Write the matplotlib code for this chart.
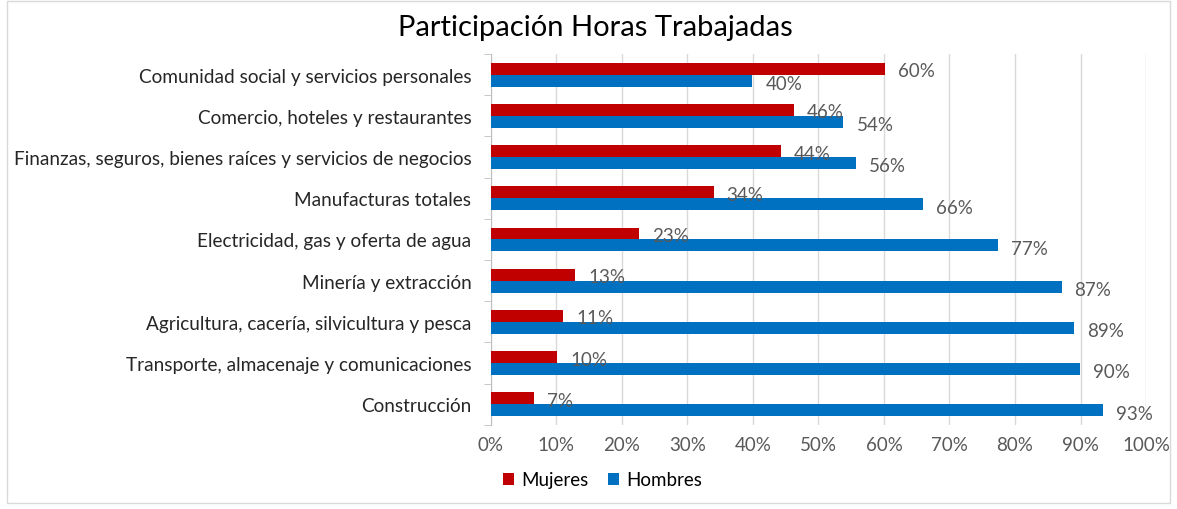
import numpy as np
import matplotlib.pyplot as plt
from matplotlib.patches import Rectangle

plt.rcParams['font.family'] = ['Lato', 'DejaVu Sans']

categorias = ["Comunidad social y servicios personales",
              "Comercio, hoteles y restaurantes",
              "Finanzas, seguros, bienes raíces y servicios de negocios",
              "Manufacturas totales",
              "Electricidad, gas y oferta de agua",
              "Minería y extracción",
              "Agricultura, cacería, silvicultura y pesca",
              "Transporte, almacenaje y comunicaciones",
              "Construcción"]
mujeres = [60.1, 46.2, 44.3, 34.0, 22.6, 12.9, 11.0, 10.1, 6.6]
hombres = [39.9, 53.8, 55.7, 66.0, 77.4, 87.1, 89.0, 89.9, 93.4]

rojo = "#c00000"
azul = "#0070c0"
gris = "#595959"

fig = plt.figure(figsize=(11.77, 5.10), dpi=100)
ax = fig.add_axes([0.417, 0.165, 0.5567, 0.727])

y = np.arange(len(categorias))[::-1]
h = 0.29
ax.barh(y + h / 2, mujeres, height=h, color=rojo, label="Mujeres", zorder=3)
ax.barh(y - h / 2, hombres, height=h, color=azul, label="Hombres", zorder=3)

for yi, m, hv in zip(y, mujeres, hombres):
    ax.text(m + 2.0, yi + h / 2 - 0.05, f"{m:.0f}%", va="center", ha="left", fontsize=13.5, color=gris)
    ax.text(hv + 2.0, yi - h / 2 - 0.07, f"{hv:.0f}%", va="center", ha="left", fontsize=13.5, color=gris)

ax.set_xlim(0, 100)
ax.set_ylim(-0.5, len(categorias) - 0.5)
ax.set_xticks(np.arange(0, 101, 10))
ax.set_xticklabels([f"{v}%" for v in range(0, 101, 10)], fontsize=13.5, color=gris)
ax.set_yticks(y)
ax.set_yticklabels(categorias, fontsize=13.7, color="#262626")
ax.set_yticks(np.arange(-0.5, len(categorias), 1), minor=True)
ax.tick_params(axis="y", which="major", length=0, pad=14)
ax.tick_params(axis="y", which="minor", length=5, color="#bfbfbf")
ax.tick_params(axis="x", length=0, pad=8)
ax.grid(axis="x", color="#d9d9d9", linewidth=1, zorder=0)
for s in ["top", "right", "bottom"]:
    ax.spines[s].set_visible(False)
ax.spines["left"].set_color("#bfbfbf")

fig.suptitle("Participación Horas Trabajadas", x=0.506, y=0.97, fontsize=21, color="#000000")

fig.legend(loc="center", bbox_to_anchor=(0.512, 0.057), ncol=2, frameon=False, fontsize=13.5,
           handlelength=0.6, handleheight=0.6, handletextpad=0.4, columnspacing=1.0)

fig.patches.append(Rectangle((0.006, 0.012), 0.988, 0.985, transform=fig.transFigure,
                             fill=False, edgecolor="#d9d9d9", linewidth=1))

fig.savefig("out.png", dpi=100)
